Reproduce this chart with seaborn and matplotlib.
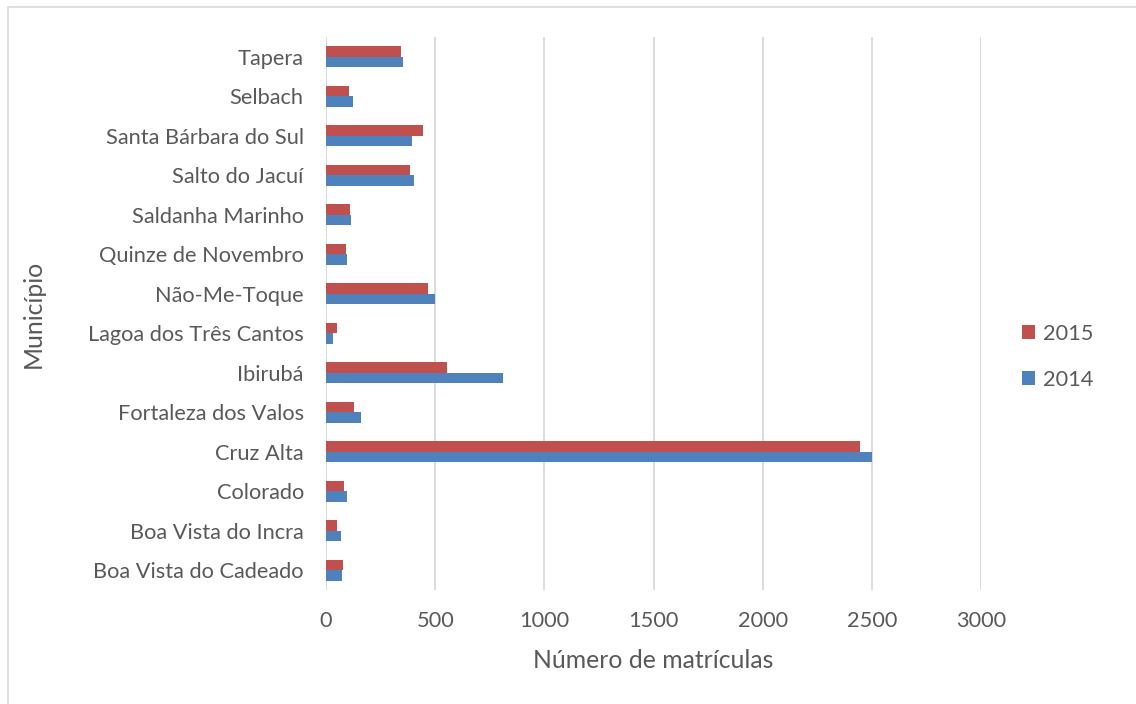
import matplotlib
matplotlib.use("Agg")
import matplotlib.pyplot as plt
import seaborn as sns
import pandas as pd
from matplotlib.patches import Rectangle

municipios = ["Tapera", "Selbach", "Santa Bárbara do Sul", "Salto do Jacuí",
              "Saldanha Marinho", "Quinze de Novembro", "Não-Me-Toque",
              "Lagoa dos Três Cantos", "Ibirubá", "Fortaleza dos Valos",
              "Cruz Alta", "Colorado", "Boa Vista do Incra", "Boa Vista do Cadeado"]
valores_2015 = [342, 107, 445, 384, 110, 91, 468, 49, 554, 126, 2444, 82, 50, 78]
valores_2014 = [352, 125, 392, 401, 113, 96, 499, 32, 809, 162, 2500, 96, 70, 72]
anos = ["2015", "2014"]
x_ticks = [0, 500, 1000, 1500, 2000, 2500, 3000]

df = pd.DataFrame({
    "Município": municipios * 2,
    "Ano": ["2015"] * len(municipios) + ["2014"] * len(municipios),
    "Valor": valores_2015 + valores_2014,
})

sns.set_style("white")
plt.rcParams["font.family"] = ["Lato", "DejaVu Sans"]

fig = plt.figure(figsize=(11.36, 7.04), dpi=100)
ax = fig.add_axes([326 / 1136, 1 - 590 / 704, (981 - 326) / 1136, (590 - 37) / 704])

sns.barplot(data=df, y="Município", x="Valor", hue="Ano", hue_order=anos,
            order=municipios, orient="h", width=0.54, saturation=1,
            palette={"2015": "#C0504D", "2014": "#4F81BD"},
            edgecolor="none", ax=ax, legend=True)

ax.set_xlim(0, 3000)
ax.set_xticks(x_ticks)
ax.xaxis.grid(True, color="#D9D9D9", linewidth=1.3)
ax.yaxis.grid(False)
ax.set_axisbelow(True)
for s in ax.spines.values():
    s.set_visible(False)
ax.tick_params(axis="y", length=0, labelsize=15.7, labelcolor="#595959", pad=16)
ax.tick_params(axis="x", length=0, labelsize=15.7, labelcolor="#595959", pad=15)
ax.set_xlabel("Número de matrículas", fontsize=17.8, color="#595959", labelpad=13)
ax.set_ylabel("Município", fontsize=17.8, color="#595959", labelpad=31)

leg = ax.legend(loc="center left", bbox_to_anchor=(1002 / 1136, 1 - 357 / 704),
                bbox_transform=fig.transFigure, frameon=False,
                fontsize=15.7, labelcolor="#595959", handlelength=0.6,
                handleheight=0.6, labelspacing=1.2, handletextpad=0.4)

fig.patches.append(Rectangle((8 / 1136, -0.1), 1.2, 1 - 7 / 704 + 0.1,
                             transform=fig.transFigure, fill=False,
                             edgecolor="#D9D9D9", linewidth=1.2, zorder=0))

fig.savefig("out.png", dpi=100)
